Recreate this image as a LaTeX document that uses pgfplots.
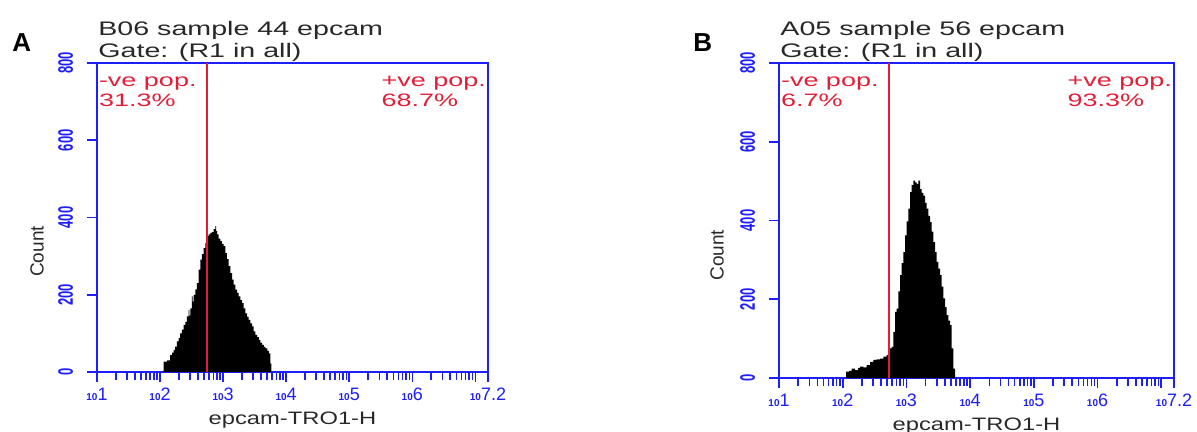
\documentclass[border=0pt]{standalone}
\usepackage{fontspec}
\setmainfont{Liberation Sans}
\newfontfamily\fcs[FakeStretch=1.46]{Liberation Sans}
\newfontfamily\fcsr[FakeStretch=1.5]{Liberation Sans}
\newfontfamily\fcsx[FakeStretch=1.32]{Liberation Sans}
\newfontfamily\fcsn[FakeStretch=0.62]{Liberation Sans}
\usepackage{pgfplots}
\pgfplotsset{compat=1.18}
\usetikzlibrary{calc}
\definecolor{fcsblue}{RGB}{30,30,250}
\definecolor{gatered}{RGB}{225,30,55}
\definecolor{txt}{RGB}{40,40,40}
\newcommand{\xl}[1]{{\fontsize{5}{5}\selectfont\bfseries 10}{\fontsize{9}{9}\selectfont #1}}

\pgfplotsset{
  fcs/.style={
    scale only axis, clip=false,
    cycle list={{gatered}},
    xmin=1, xmax=7.2, ymin=0, ymax=800,
    axis line style={fcsblue, line width=0.9pt},
    tick style={fcsblue, line width=0.8pt},
    tick align=outside, tick pos=left,
    major tick length=4.8pt, minor tick length=4pt,
    xtick={1,2,3,4,5,6,7,7.2},
    xticklabels={\xl{1},\xl{2},\xl{3},\xl{4},\xl{5},\xl{6},{},\xl{7.2}},
    minor xtick={1.301,1.477,1.602,1.699,1.778,1.845,1.903,1.954,
                 2.301,2.477,2.602,2.699,2.778,2.845,2.903,2.954,
                 3.301,3.477,3.602,3.699,3.778,3.845,3.903,3.954,
                 4.301,4.477,4.602,4.699,4.778,4.845,4.903,4.954,
                 5.301,5.477,5.602,5.699,5.778,5.845,5.903,5.954,
                 6.301,6.477,6.602,6.699,6.778,6.845,6.903,6.954},
    ytick={0,200,400,600,800},
    yticklabels={0,200,400,600,800},
    yticklabel style={rotate=90, anchor=south, inner sep=0pt, text=fcsblue,
                      font=\fcsn\bfseries\fontsize{10.5}{10.5}\selectfont},
    yticklabel shift=7pt,
    xticklabel style={anchor=base, inner sep=0pt, text=fcsblue},
    xticklabel shift=9.2pt,
  },
}
\tikzset{
  ttl/.style={font=\fcs\fontsize{9.8}{10}\selectfont, text=txt, inner sep=0pt},
  gtxt/.style={font=\fcsr\fontsize{9}{9}\selectfont, text=gatered, inner sep=0pt},
}

\begin{document}
\begin{tikzpicture}
\path[use as bounding box] (0,0) rectangle (598.5pt,-216pt);

% panel A
\node[anchor=base west, font=\bfseries\fontsize{13}{13}\selectfont, inner sep=0pt] at (6pt,-26pt) {A};
\begin{axis}[fcs, at={(48.5pt,-186pt)}, anchor=south west, width=195.5pt, height=154.5pt]
\addplot[const plot, fill=black, draw=none, mark=none] coordinates {
  (2.055,27) (2.11,30) (2.16,44) (2.19,50) (2.214,57) (2.24,66) (2.267,79)
  (2.295,88) (2.32,100) (2.345,110) (2.372,122) (2.40,130) (2.426,144)
  (2.452,161) (2.465,146) (2.479,165) (2.505,196) (2.518,182) (2.531,200)
  (2.558,214) (2.585,230) (2.611,265) (2.638,291) (2.664,305) (2.69,321)
  (2.717,334) (2.744,352) (2.77,356) (2.797,360) (2.823,362) (2.85,370)
  (2.876,378) (2.89,365) (2.903,356) (2.93,345) (2.955,339) (2.98,332)
  (3.008,326) (3.035,308) (3.06,292) (3.088,274) (3.115,256) (3.141,239)
  (3.167,226) (3.194,213) (3.22,205) (3.247,196) (3.273,186) (3.30,178)
  (3.327,165) (3.353,152) (3.38,143) (3.406,135) (3.433,126) (3.459,118)
  (3.485,105) (3.512,96) (3.54,90) (3.565,83) (3.59,76) (3.618,70)
  (3.645,65) (3.671,61) (3.70,55) (3.724,48) (3.75,22) (3.766,0)
} \closedcycle;
\addplot[color=gatered, line width=1pt, mark=none] coordinates {(2.74,0) (2.74,800)};
\node[ttl, anchor=base west] at ($(rel axis cs:0,1)+(0.5pt,14pt)$) {B06 sample 44 epcam};
\node[ttl, anchor=base west] at ($(rel axis cs:0,1)+(0.5pt,3pt)$) {Gate: (R1 in all)};
\node[gtxt, anchor=base west] at ($(rel axis cs:0,1)+(0.8pt,-11.5pt)$) {-ve pop.};
\node[gtxt, anchor=base west] at ($(rel axis cs:0,1)+(0.8pt,-21.5pt)$) {31.3\%};
\node[gtxt, anchor=base east] (pa) at ($(rel axis cs:1,1)+(-0.8pt,-11.5pt)$) {+ve pop.};
\node[gtxt, anchor=base west] at ($(pa.base west)+(0pt,-10pt)$) {68.7\%};
\node[font=\fcsx\fontsize{9}{9}\selectfont, text=txt, anchor=base, inner sep=0pt]
  at ($(rel axis cs:0.5,0)+(0pt,-26pt)$) {epcam-TRO1-H};
\node[font=\fontsize{9.5}{10}\selectfont, text=txt, rotate=90, inner sep=0pt]
  at ($(rel axis cs:0,0.39)+(-30pt,0pt)$) {Count};
\end{axis}

% panel B
\node[anchor=base west, font=\bfseries\fontsize{13}{13}\selectfont, inner sep=0pt] at (346.5pt,-26pt) {B};
\begin{axis}[fcs, at={(389.5pt,-189pt)}, anchor=south west, width=197.5pt, height=157.5pt]
\addplot[const plot, fill=black, draw=none, mark=none] coordinates {
  (2.052,16) (2.10,18) (2.141,24) (2.193,20) (2.24,26) (2.272,29) (2.324,27)
  (2.376,33) (2.429,41) (2.481,46) (2.533,47) (2.586,49) (2.638,54)
  (2.69,58) (2.732,75) (2.769,79) (2.795,117) (2.821,168) (2.847,176)
  (2.873,220) (2.90,261) (2.926,292) (2.952,320) (2.978,362) (3.004,398)
  (3.03,430) (3.057,472) (3.083,490) (3.109,501) (3.135,497) (3.161,493)
  (3.187,501) (3.214,480) (3.24,470) (3.266,463) (3.292,445) (3.318,430)
  (3.344,412) (3.37,396) (3.396,372) (3.423,345) (3.449,320) (3.475,295)
  (3.50,278) (3.527,261) (3.553,232) (3.58,202) (3.606,180) (3.632,160)
  (3.658,146) (3.684,134) (3.711,75) (3.737,24) (3.763,0)
} \closedcycle;
\addplot[color=gatered, line width=1pt, mark=none] coordinates {(2.73,0) (2.73,800)};
\node[ttl, anchor=base west] at ($(rel axis cs:0,1)+(0.5pt,14pt)$) {A05 sample 56 epcam};
\node[ttl, anchor=base west] at ($(rel axis cs:0,1)+(0.5pt,3pt)$) {Gate: (R1 in all)};
\node[gtxt, anchor=base west] at ($(rel axis cs:0,1)+(0.8pt,-11.5pt)$) {-ve pop.};
\node[gtxt, anchor=base west] at ($(rel axis cs:0,1)+(0.8pt,-21.5pt)$) {6.7\%};
\node[gtxt, anchor=base east] (pb) at ($(rel axis cs:1,1)+(-0.8pt,-11.5pt)$) {+ve pop.};
\node[gtxt, anchor=base west] at ($(pb.base west)+(0pt,-10pt)$) {93.3\%};
\node[font=\fcsx\fontsize{9}{9}\selectfont, text=txt, anchor=base, inner sep=0pt]
  at ($(rel axis cs:0.5,0)+(0pt,-26pt)$) {epcam-TRO1-H};
\node[font=\fontsize{9.5}{10}\selectfont, text=txt, rotate=90, inner sep=0pt]
  at ($(rel axis cs:0,0.39)+(-31pt,0pt)$) {Count};
\end{axis}
\end{tikzpicture}
\end{document}
